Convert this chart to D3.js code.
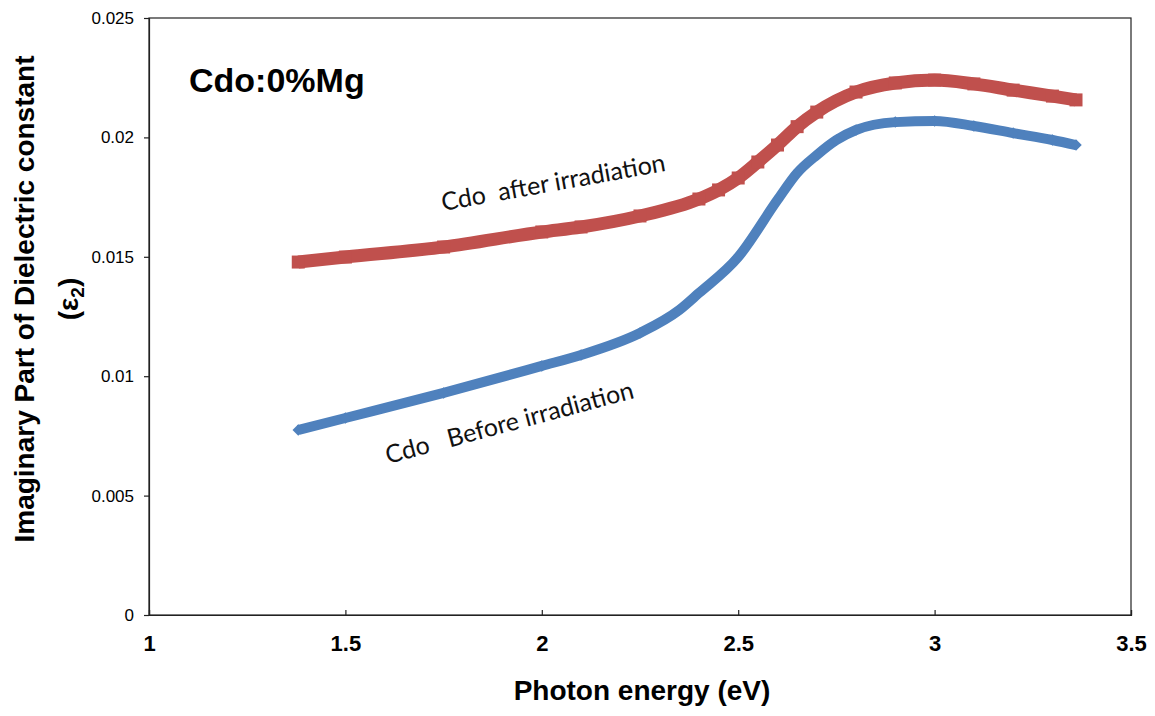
<!DOCTYPE html>
<html>
<head>
<meta charset="utf-8">
<script src="https://cdn.jsdelivr.net/npm/d3@7"></script>
<style>
  body { margin: 0; background: #fff; }
  svg { display: block; }
  .axis text { font-family: "Liberation Sans", Arial, sans-serif; fill: #000; }
</style>
</head>
<body>
<svg width="1155" height="716"></svg>
<script>
// photon energy (eV) and imaginary part of dielectric constant
var energyAfter = [1.38, 1.5, 1.75, 2.0, 2.1, 2.25, 2.4, 2.45, 2.5, 2.55, 2.6, 2.65, 2.7, 2.8, 2.9, 3.0, 3.1, 3.2, 3.3, 3.36];
var eps2After = [0.01478, 0.01499, 0.01541, 0.01604, 0.01625, 0.01671, 0.01742, 0.0178, 0.0183, 0.01897, 0.01968, 0.02045, 0.02106, 0.0219, 0.02228, 0.0224, 0.02224, 0.02198, 0.02173, 0.02157];

var energyBefore = [1.38, 1.5, 1.75, 2.0, 2.1, 2.25, 2.35, 2.4, 2.5, 2.6, 2.65, 2.7, 2.75, 2.8, 2.9, 3.0, 3.1, 3.2, 3.3, 3.36];
var eps2Before = [0.00775, 0.00825, 0.0093, 0.01043, 0.01089, 0.01181, 0.01277, 0.01348, 0.01499, 0.01738, 0.01851, 0.01926, 0.01989, 0.02031, 0.02064, 0.02069, 0.02048, 0.02018, 0.01989, 0.01968];

var xTicks = [1, 1.5, 2, 2.5, 3, 3.5];
var yTicks = [0, 0.005, 0.01, 0.015, 0.02, 0.025];

var svg = d3.select('svg');
var x = d3.scaleLinear().domain([1, 3.5]).range([149, 1131]),
  y = d3.scaleLinear().domain([0, 0.025]).range([615, 18]);

// plot frame
svg.append('rect')
  .attr('x', x(1)).attr('y', y(0.025))
  .attr('width', x(3.5) - x(1)).attr('height', y(0) - y(0.025))
  .attr('fill', 'none').attr('stroke', '#222').attr('stroke-width', 1.2);

var yAxis = svg.append('g').attr('class', 'axis')
  .attr('transform', 'translate(' + x(1) + ',0)')
  .call(d3.axisLeft(y).tickValues(yTicks).tickSizeOuter(0).tickSize(5).tickPadding(10)
    .tickFormat(function(d) { return String(+d.toFixed(3)); }));
yAxis.selectAll('text').style('font-size', '17px');

var xAxis = svg.append('g').attr('class', 'axis')
  .attr('transform', 'translate(0,' + y(0) + ')')
  .call(d3.axisBottom(x).tickValues(xTicks).tickSizeOuter(0).tickSize(-5).tickPadding(20)
    .tickFormat(function(d) { return String(d); }));
xAxis.selectAll('text').style('font-size', '22px').style('font-weight', 'bold');
svg.selectAll('.axis path, .axis line').attr('stroke', '#222').attr('stroke-width', 1.2);

function series(xs, ys, color, width, rot, size) {
  var pts = xs.map(function(d, i) { return [d, ys[i]]; });
  var line = d3.line()
    .x(function(d) { return x(d[0]); })
    .y(function(d) { return y(d[1]); })
    .curve(d3.curveMonotoneX);
  svg.append('path').datum(pts)
    .attr('d', line)
    .attr('fill', 'none')
    .attr('stroke', color)
    .attr('stroke-width', width);
  svg.append('g').selectAll('path')
    .data(pts)
    .enter().append('path')
    .attr('transform', function(d) { return 'translate(' + x(d[0]) + ',' + y(d[1]) + ') rotate(' + rot + ')'; })
    .attr('d', d3.symbol().type(d3.symbolSquare).size(size))
    .attr('fill', color);
}

series(energyAfter, eps2After, '#C0504D', 13, 0, 169);
series(energyBefore, eps2Before, '#4F81BD', 10, 45, 66);

// titles
svg.append('text')
  .attr('x', x(2.25) + 2).attr('y', 700)
  .attr('text-anchor', 'middle')
  .style('font-family', '"Liberation Sans", Arial, sans-serif')
  .style('font-size', '28px').style('font-weight', 'bold')
  .text('Photon energy (eV)');

var yt = svg.append('text')
  .attr('transform', 'translate(34,299) rotate(-90)')
  .attr('text-anchor', 'middle')
  .style('font-family', '"Liberation Sans", Arial, sans-serif')
  .style('font-size', '28px').style('font-weight', 'bold');
yt.append('tspan').attr('x', 0).attr('y', 0).text('Imaginary Part of Dielectric constant');
var yt2 = yt.append('tspan').attr('x', 0).attr('y', 44).text('(ε');
yt2.append('tspan').attr('dy', 6).style('font-size', '19px').text('2');
yt.append('tspan').attr('dy', -6).text(')');

svg.append('text')
  .attr('x', 189).attr('y', 92)
  .style('font-family', '"Liberation Sans", Arial, sans-serif')
  .style('font-size', '34px').style('font-weight', 'bold')
  .text('Cdo:0%Mg');

// curve labels
svg.append('text')
  .attr('transform', 'translate(443,211) rotate(-10.2)')
  .style('font-family', 'Lato, "Open Sans", sans-serif')
  .style('font-size', '25px').style('fill', '#111')
  .attr('xml:space', 'preserve')
  .text('Cdo  after irradiation');

svg.append('text')
  .attr('transform', 'translate(388,464) rotate(-15)')
  .style('font-family', 'Lato, "Open Sans", sans-serif')
  .style('font-size', '25px').style('fill', '#111')
  .attr('xml:space', 'preserve')
  .text('Cdo   Before irradiation');
</script>
</body>
</html>
